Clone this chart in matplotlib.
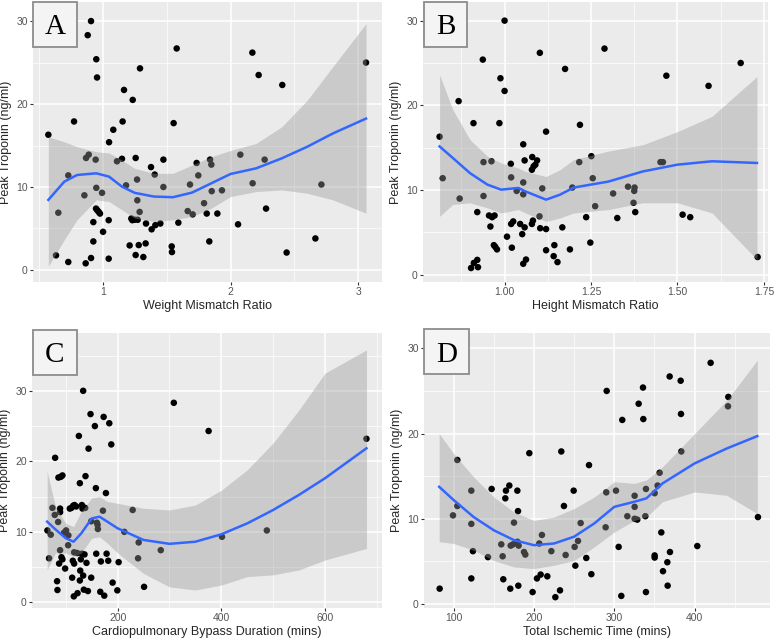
import matplotlib
matplotlib.use("Agg")
import matplotlib.pyplot as plt
from matplotlib.patches import Rectangle
import numpy as np

# peak troponin vs donor/recipient factors, with loess fits

# --- panel A: weight mismatch ratio ---
a_x = [0.575, 0.635, 0.653, 0.731, 0.731, 0.776, 0.857, 0.870, 0.883, 0.867, 0.891, 0.909,
       0.909, 0.927, 0.927, 0.945, 0.950, 0.956, 0.950, 0.948, 0.958, 0.969, 0.979, 0.995,
       1.003, 1.047, 1.047, 1.050, 1.083, 1.112, 1.151, 1.156, 1.167, 1.183, 1.211, 1.224,
       1.232, 1.235, 1.250, 1.258, 1.258, 1.269, 1.271, 1.274, 1.282, 1.289, 1.292, 1.318,
       1.336, 1.339, 1.378, 1.383, 1.407, 1.412, 1.451, 1.475, 1.475, 1.540, 1.542, 1.555,
       1.579, 1.592, 1.665, 1.683, 1.704, 1.735, 1.748, 1.793, 1.814, 1.834, 1.840, 1.850,
       1.853, 1.897, 1.933, 2.059, 2.077, 2.171, 2.173, 2.220, 2.267, 2.278, 2.405, 2.439,
       2.664, 2.711, 3.060]
a_y = [16.3, 1.76, 6.9, 0.96, 11.4, 17.9, 9.0, 13.5, 28.3, 0.8, 13.9, 30.0,
       1.44, 5.77, 3.44, 13.3, 25.4, 23.2, 9.9, 7.4, 7.2, 7.0, 6.8, 9.3,
       4.6, 6.0, 1.36, 15.4, 16.9, 13.1, 13.4, 17.9, 21.7, 10.2, 2.96, 6.2,
       6.0, 20.5, 6.05, 13.5, 1.8, 10.9, 8.4, 6.05, 3.0, 7.0, 24.3, 1.56,
       3.2, 5.6, 12.4, 4.9, 11.5, 5.4, 5.6, 13.3, 10.0, 2.84, 2.16, 17.7,
       26.7, 5.7, 7.1, 10.3, 6.7, 12.9, 11.4, 8.05, 6.8, 3.44, 13.3, 12.7,
       9.5, 6.8, 9.6, 5.5, 13.9, 26.2, 10.45, 23.5, 13.3, 7.4, 22.3, 2.1,
       3.8, 10.3, 25.0]
a_fit_x = [0.575, 0.7, 0.8, 0.95, 1.05, 1.15, 1.25, 1.4, 1.55, 1.7, 1.85, 2.0, 2.2, 2.4, 2.6, 2.8, 3.06]
a_fit = [8.45, 10.65, 11.45, 11.65, 11.25, 10.05, 9.3, 8.85, 8.77, 9.33, 10.45, 11.57, 12.25, 13.45, 14.85, 16.45, 18.25]
a_hi = [16.05, 15.45, 14.85, 14.25, 14.1, 13.25, 12.25, 11.65, 11.65, 12.65, 13.65, 14.4, 15.25, 17.25, 20.45, 24.5, 29.7]
a_lo = [0.45, 3.65, 6.05, 8.45, 8.25, 7.25, 6.25, 5.85, 6.05, 6.45, 7.45, 8.85, 9.45, 9.65, 9.25, 8.45, 6.85]

# --- panel B: height mismatch ratio ---
b_x = [0.812, 0.821, 0.867, 0.867, 0.870, 0.903, 0.911, 0.921, 0.923, 0.910, 0.921, 0.937,
       0.939, 0.939, 0.955, 0.959, 0.962, 0.964, 0.971, 0.969, 0.973, 0.978, 0.985, 0.988,
       1.000, 1.000, 1.007, 1.018, 1.019, 1.019, 1.021, 1.025, 1.035, 1.045, 1.051, 1.054,
       1.054, 1.054, 1.054, 1.058, 1.058, 1.062, 1.079, 1.082, 1.080, 1.084, 1.079, 1.089,
       1.094, 1.101, 1.103, 1.109, 1.102, 1.120, 1.120, 1.120, 1.142, 1.144, 1.153, 1.167,
       1.175, 1.189, 1.196, 1.216, 1.218, 1.236, 1.248, 1.251, 1.255, 1.262, 1.289, 1.314,
       1.326, 1.357, 1.373, 1.375, 1.376, 1.378, 1.451, 1.458, 1.468, 1.515, 1.537, 1.590,
       1.683, 1.732]
b_y = [16.3, 11.4, 20.5, 28.3, 9.0, 0.8, 1.4, 1.76, 0.9, 17.9, 7.4, 25.4,
       13.3, 9.3, 7.0, 5.7, 13.4, 6.8, 7.0, 3.5, 3.3, 3.0, 17.9, 23.2,
       30.0, 21.7, 4.5, 13.1, 11.5, 6.0, 3.2, 6.3, 9.9, 6.0, 4.8, 10.9,
       9.5, 15.4, 1.3, 5.6, 13.5, 1.8, 6.0, 6.4, 13.9, 12.8, 12.4, 13.0,
       13.5, 6.9, 5.5, 10.2, 26.2, 16.9, 2.9, 5.4, 2.2, 3.5, 1.5, 5.6,
       24.3, 3.0, 10.3, 13.3, 17.7, 6.8, 3.8, 14.0, 11.4, 8.1, 26.7, 9.6,
       6.7, 10.4, 8.5, 9.9, 10.3, 7.4, 13.3, 13.3, 23.5, 7.1, 6.8, 22.3,
       25.0, 2.1]
b_fit_x = [0.812, 0.85, 0.9, 0.95, 0.99, 1.04, 1.06, 1.12, 1.16, 1.2, 1.3, 1.4, 1.5, 1.6, 1.73]
b_fit = [15.15, 13.8, 12.0, 10.65, 10.05, 10.25, 9.85, 8.87, 9.45, 10.3, 11.0, 12.2, 13.0, 13.4, 13.2]
b_hi = [23.6, 19.5, 15.95, 14.0, 13.2, 12.6, 12.2, 11.6, 12.4, 13.6, 14.6, 15.35, 16.9, 18.7, 23.4]
b_lo = [6.9, 8.3, 8.5, 7.9, 7.3, 7.7, 7.3, 6.3, 6.7, 7.3, 7.7, 8.5, 8.5, 7.3, 1.8]

# --- panel C: cardiopulmonary bypass duration ---
c_x = [64.5, 67.7, 71, 74.2, 78.7, 79.4, 83.2, 83.9, 85.2, 85.8, 87.1, 89,
       89, 89, 90.3, 91.6, 93.5, 93.5, 96.8, 98.7, 100.6, 104.5, 105, 107.7,
       110.9, 112.3, 113.5, 114.2, 116.1, 115.5, 116.1, 116.8, 120, 121.9, 122.6, 125.2,
       127.1, 127.1, 127.8, 129, 131, 131, 132.2, 133.5, 133.5, 134.8, 136.1, 137.4,
       138, 139.9, 142.6, 143.9, 147.7, 149, 149, 156.1, 158, 158.7, 160, 161.3,
       161.9, 166.5, 167.7, 171.6, 173, 174.2, 177.4, 178.7, 181.9, 183.9, 187.7, 190.3,
       199.4, 201.9, 212.9, 229, 239.4, 240.6, 251, 283.2, 308.4, 375.5, 401.3, 487.8,
       680]
c_y = [10.2, 6.25, 9.6, 13.4, 12.4, 20.5, 3.0, 1.75, 11.4, 17.7, 5.5, 13.3,
       12.8, 7.4, 17.8, 6.4, 18.0, 6.1, 9.9, 4.8, 10.2, 8.1, 9.5, 13.3,
       13.4, 3.5, 5.9, 13.7, 7.1, 0.85, 5.5, 13.8, 13.6, 7.0, 1.3, 23.6,
       3.1, 16.9, 4.5, 6.1, 6.9, 13.8, 13.3, 30.0, 3.8, 1.8, 6.8, 13.4,
       17.9, 5.6, 1.6, 21.8, 26.7, 3.5, 11.5, 25.0, 16.2, 6.9, 11.3, 11.0,
       10.4, 1.5, 5.8, 13.0, 26.3, 0.95, 15.5, 6.9, 5.9, 25.4, 22.4, 2.8,
       1.7, 5.7, 10.0, 13.1, 6.25, 8.5, 2.2, 7.4, 28.3, 24.3, 9.3, 10.2,
       23.2]
c_fit_x = [64, 80, 100, 115, 130, 150, 165, 180, 200, 250, 300, 350, 400, 450, 500, 550, 600, 680]
c_fit = [11.45, 10.35, 9.1, 8.6, 9.8, 11.9, 12.15, 11.45, 10.5, 8.85, 8.3, 8.6, 9.65, 11.2, 13.1, 15.25, 17.6, 21.85]
c_hi = [18.55, 13.6, 11.2, 10.75, 12.9, 14.8, 15.0, 14.3, 14.05, 13.35, 13.1, 13.8, 15.9, 18.8, 22.6, 27.3, 32.5, 35.8]
c_lo = [4.6, 7.0, 7.0, 6.5, 7.0, 9.1, 9.3, 8.4, 7.0, 4.1, 2.2, 1.75, 2.45, 3.65, 3.9, 4.6, 6.0, 7.65]

# --- panel D: total ischemic time ---
d_x = [82.6, 99.2, 104.6, 104.6, 122, 122, 122, 124, 142.7, 147.3, 159.3, 161,
       161.8, 164.3, 165.1, 169.3, 170.5, 171, 173.9, 175.1, 179.3, 179.3, 180.1, 180.5,
       180.9, 187.6, 189.2, 194.2, 198.3, 203.7, 206.6, 208.3, 209.9, 216.6, 221.6, 226.6,
       232.4, 234, 237.3, 239.4, 249.4, 250.6, 251.5, 254.8, 258.1, 265.1, 268.5, 271.4,
       289.2, 290.0, 290.5, 302.1, 305.4, 308.7, 309.9, 316.2, 325.3, 325.3, 325.3, 328.6,
       330.3, 335.7, 336.1, 338.6, 339.4, 339.4, 350.2, 350.2, 350.2, 353.9, 356.4, 358.5,
       360.6, 366, 366.4, 368.9, 369.3, 382.6, 383, 383.4, 403.3, 419.9, 441.5, 441.9,
       478.8]
d_y = [1.8, 10.4, 11.5, 16.9, 13.3, 9.4, 3.0, 6.2, 5.5, 13.5, 7.0, 5.6,
       2.9, 12.4, 13.3, 13.9, 1.8, 6.85, 7.0, 9.55, 7.3, 13.3, 10.9, 2.15,
       6.85, 6.1, 5.8, 17.7, 1.4, 3.0, 7.1, 3.45, 8.1, 3.25, 6.2, 0.8,
       1.6, 17.9, 11.5, 5.75, 13.3, 6.7, 4.5, 7.4, 9.5, 5.4, 16.3, 3.5,
       9.0, 13.1, 25.0, 13.3, 6.7, 0.95, 21.6, 10.3, 12.7, 11.4, 10.0, 9.9,
       23.5, 25.4, 21.7, 10.3, 1.4, 13.5, 13.0, 5.7, 5.45, 13.9, 15.4, 8.4,
       3.85, 4.9, 2.15, 26.7, 6.1, 26.2, 22.3, 17.9, 6.8, 28.3, 23.2, 24.3,
       10.2]
d_fit_x = [82, 100, 125, 150, 175, 200, 225, 250, 275, 300, 325, 340, 360, 400, 440, 478]
d_fit = [13.75, 12.2, 10.2, 8.65, 7.5, 6.9, 7.1, 7.9, 9.45, 11.4, 12.0, 12.4, 14.15, 16.5, 18.25, 19.7]
d_hi = [20.0, 17.65, 14.9, 12.55, 10.8, 9.8, 10.2, 11.2, 12.55, 14.35, 14.15, 14.55, 16.1, 20.0, 23.9, 28.6]
d_lo = [7.3, 7.1, 6.3, 5.1, 4.35, 4.15, 4.55, 5.1, 6.7, 8.45, 9.8, 10.2, 12.0, 13.15, 12.75, 10.6]

W, H = 776, 640
plt.rcParams['font.family'] = ['Liberation Sans', 'DejaVu Sans']


def px_axes(fig, left, top, right, bottom):
    return fig.add_axes([left / W, 1 - bottom / H, (right - left) / W, (bottom - top) / H])


def gg_axes(ax, xlim, ylim, xmajor, xlabels, ymajor):
    """ggplot2 theme_gray look"""
    ax.set_facecolor("#ebebeb")
    for s in ax.spines.values():
        s.set_visible(False)
    ax.set_xlim(*xlim)
    ax.set_ylim(*ylim)
    ax.set_xticks(xmajor)
    ax.set_xticklabels(xlabels)
    ax.set_yticks(ymajor)
    xm = np.array(xmajor, dtype=float)
    ym = np.array(ymajor, dtype=float)
    dx = xm[1] - xm[0]
    dy = ym[1] - ym[0]
    xminor = np.concatenate([[xm[0] - dx / 2], xm + dx / 2])
    yminor = np.concatenate([[ym[0] - dy / 2], ym + dy / 2])
    for v in xminor:
        ax.axvline(v, color="white", lw=0.5, zorder=0.5)
    for v in yminor:
        ax.axhline(v, color="white", lw=0.5, zorder=0.5)
    for v in xm:
        ax.axvline(v, color="white", lw=1.1, zorder=0.6)
    for v in ym:
        ax.axhline(v, color="white", lw=1.1, zorder=0.6)
    ax.tick_params(colors="#333333", labelcolor="#555555", labelsize=7.5, length=2.2, width=0.8, pad=1.5)


def panel(fig, ax, x, y, fx, fit, lo, hi, xlabel, letter, box):
    ax.scatter(x, y, s=22, color="black", edgecolors="none", zorder=2)
    ax.fill_between(fx, lo, hi, color="#999999", alpha=0.4, linewidth=0, zorder=3)
    ax.plot(fx, fit, color="#3366FF", lw=1.8, zorder=4)
    ax.set_xlabel(xlabel, fontsize=9, color="#262626", labelpad=2)
    ax.set_ylabel("Peak Troponin (ng/ml)", fontsize=9, color="#262626", labelpad=3)
    # letter tag box, given in pixel coords (left, top, right, bottom)
    l, t, r, b = box
    fig.patches.append(Rectangle((l / W, 1 - b / H), (r - l) / W, (b - t) / H,
                                 transform=fig.transFigure, facecolor="#f4f4f4",
                                 edgecolor="#8c8c8c", lw=1.3, zorder=10))
    fig.text((l + r) / 2 / W, 1 - (t + b) / 2 / H, letter, ha="center", va="center_baseline",
             fontsize=21, family="Liberation Serif", zorder=11)


fig = plt.figure(figsize=(W / 100, H / 100), dpi=100)

axA = px_axes(fig, 33, 2, 382, 282)
gg_axes(axA, (0.455, 3.185), (-1.45, 32.3), [1, 2, 3], ["1", "2", "3"], [0, 10, 20, 30])
panel(fig, axA, a_x, a_y, a_fit_x, a_fit, a_lo, a_hi, "Weight Mismatch Ratio", "A", (33, 2, 77, 47))

axB = px_axes(fig, 423, 2, 768, 282)
gg_axes(axB, (0.764, 1.762), (-0.85, 32.2), [1.0, 1.25, 1.5, 1.75], ["1.00", "1.25", "1.50", "1.75"], [0, 10, 20, 30])
panel(fig, axB, b_x, b_y, b_fit_x, b_fit, b_lo, b_hi, "Height Mismatch Ratio", "B", (424, 2, 467, 47))

axC = px_axes(fig, 32, 333, 382, 608)
gg_axes(axC, (34.8, 710), (-0.8, 38.2), [200, 400, 600], ["200", "400", "600"], [0, 10, 20, 30])
panel(fig, axC, c_x, c_y, c_fit_x, c_fit, c_lo, c_hi, "Cardiopulmonary Bypass Duration (mins)", "C", (33, 330, 77, 375))

axD = px_axes(fig, 424, 333, 770, 608)
gg_axes(axD, (63.1, 493.8), (-0.47, 31.8), [100, 200, 300, 400], ["100", "200", "300", "400"], [0, 10, 20, 30])
panel(fig, axD, d_x, d_y, d_fit_x, d_fit, d_lo, d_hi, "Total Ischemic Time (mins)", "D", (424, 329, 469, 374))

fig.savefig("out.png", dpi=100)
